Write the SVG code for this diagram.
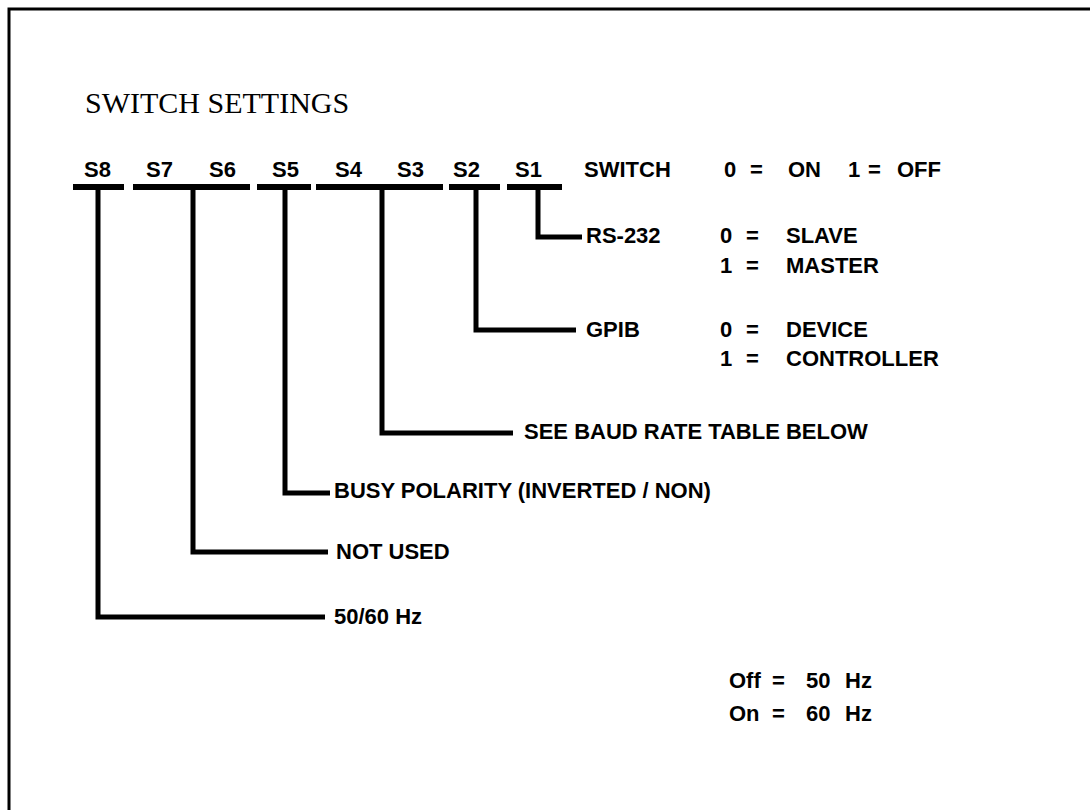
<svg xmlns="http://www.w3.org/2000/svg" width="1090" height="810" viewBox="0 0 1090 810">
<style>
.t{font-family:"Liberation Sans",Arial,sans-serif;font-size:22px;font-weight:bold;fill:#000}
.s{font-family:"Liberation Sans",Arial,sans-serif;font-size:22px;font-weight:bold;fill:#000}
.title{font-family:"Liberation Serif","Times New Roman",serif;font-size:30px;fill:#000}
.bar{stroke:#000;stroke-width:6;fill:none}
.ln{stroke:#000;stroke-width:5;fill:none;stroke-linejoin:miter}
.frame{stroke:#000;stroke-width:3;fill:none}
</style>
<rect width="1090" height="810" fill="#fff"/>
<path class="frame" d="M9,810 V9 H1090"/>
<text class="title" x="85" y="113">SWITCH SETTINGS</text>
<g id="header">
<text class="t" x="84" y="177">S8</text>
<text class="t" x="146" y="177">S7</text>
<text class="t" x="209" y="177">S6</text>
<text class="t" x="272" y="177">S5</text>
<text class="t" x="335" y="177">S4</text>
<text class="t" x="397" y="177">S3</text>
<text class="t" x="453" y="177">S2</text>
<text class="t" x="515" y="177">S1</text>
<text class="t" x="584" y="177">SWITCH</text>
<text class="t" y="177"><tspan x="724">0</tspan><tspan x="750">=</tspan><tspan x="788">ON</tspan><tspan x="848">1</tspan><tspan x="868">=</tspan><tspan x="897">OFF</tspan></text>
</g>
<g id="bars">
<line class="bar" x1="73" y1="187" x2="124" y2="187"/>
<line class="bar" x1="133" y1="187" x2="250" y2="187"/>
<line class="bar" x1="257" y1="187" x2="311" y2="187"/>
<line class="bar" x1="316" y1="187" x2="443" y2="187"/>
<line class="bar" x1="449" y1="187" x2="500" y2="187"/>
<line class="bar" x1="507" y1="187" x2="562" y2="187"/>
</g>
<g id="connectors">
<path class="ln" d="M538,187 V237 H582"/>
<path class="ln" d="M476,187 V330 H576"/>
<path class="ln" d="M382,187 V433 H513"/>
<path class="ln" d="M285,187 V493 H330"/>
<path class="ln" d="M193,187 V552 H328"/>
<path class="ln" d="M98,187 V617 H325"/>
</g>
<g id="s1">
<text class="t" x="586" y="243">RS-232</text>
<text class="t" y="243"><tspan x="720">0</tspan><tspan x="746">=</tspan><tspan x="786">SLAVE</tspan></text>
<text class="t" y="273"><tspan x="720">1</tspan><tspan x="746">=</tspan><tspan x="786">MASTER</tspan></text>
</g>
<g id="s2">
<text class="t" x="586" y="337">GPIB</text>
<text class="t" y="337"><tspan x="720">0</tspan><tspan x="746">=</tspan><tspan x="786">DEVICE</tspan></text>
<text class="t" y="366"><tspan x="720">1</tspan><tspan x="746">=</tspan><tspan x="786">CONTROLLER</tspan></text>
</g>
<g id="s34"><text class="t" x="524" y="439">SEE BAUD RATE TABLE BELOW</text></g>
<g id="s5"><text class="t" x="334" y="498">BUSY POLARITY (INVERTED / NON)</text></g>
<g id="s67"><text class="t" x="336" y="559">NOT USED</text></g>
<g id="s8"><text class="t" x="334" y="624">50/60 Hz</text></g>
<g id="freq">
<text class="s" y="688"><tspan x="729">Off</tspan><tspan x="772">=</tspan><tspan x="806">50</tspan><tspan x="845">Hz</tspan></text>
<text class="s" y="721"><tspan x="729">On</tspan><tspan x="772">=</tspan><tspan x="806">60</tspan><tspan x="845">Hz</tspan></text>
</g>
</svg>
